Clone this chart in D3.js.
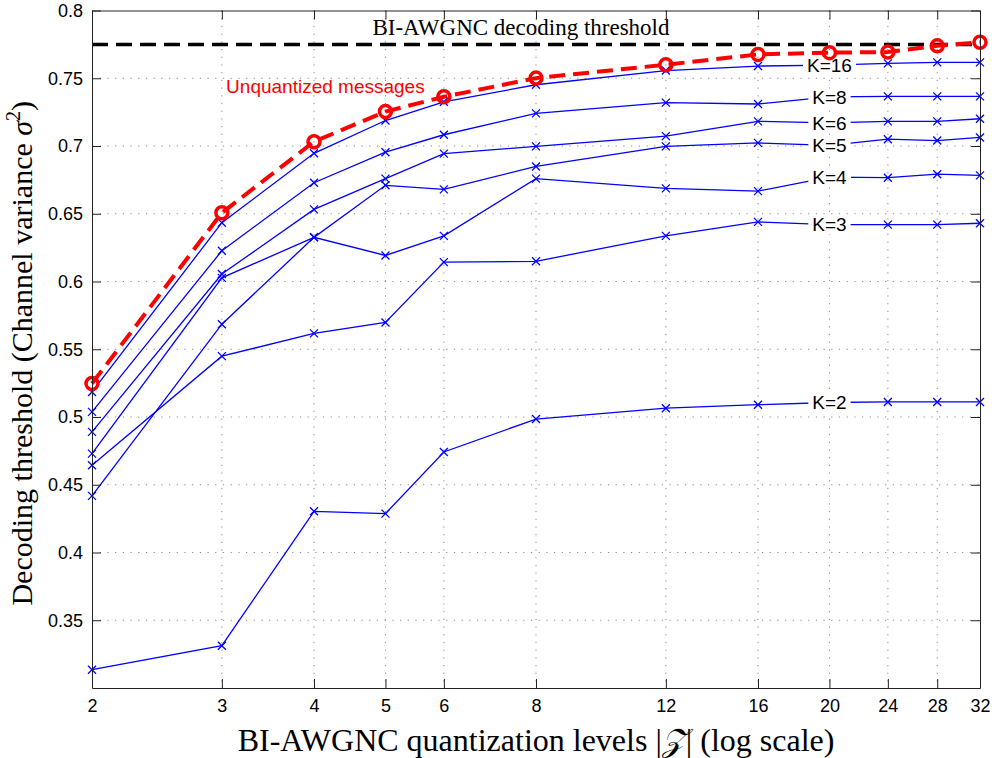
<html>
<head>
<title>Decoding threshold vs quantization levels</title>
<meta charset="utf-8">
<style type="text/css">
* { margin: 0; padding: 0; }
body { background: #fff; }
text.sans { font-family: "Liberation Sans", Arial, sans-serif; }
text.serif { font-family: "Liberation Serif", "Times New Roman", serif; }
</style>
<script type="text/javascript" src="https://cdn.jsdelivr.net/npm/d3@7/dist/d3.min.js"></script>
</head>
<body>
<div id="chart"></div>
<script type="text/javascript">
// quantization levels |Z| (x axis, log scale)
var levels = [2, 3, 4, 5, 6, 8, 12, 16, 20, 24, 28, 32];

// decoding thresholds
var unquantized = [0.5247, 0.6507, 0.7032, 0.7254, 0.7363, 0.7501, 0.7600, 0.7676, 0.7689, 0.7693, 0.7739, 0.7765];
var k16 = [0.5185, 0.6434, 0.6946, 0.7188, 0.7326, 0.7452, 0.7557, 0.7590, 0.7597, 0.7610, 0.7617, 0.7617];
var k8  = [0.5038, 0.6227, 0.6729, 0.6954, 0.7083, 0.7241, 0.7320, 0.7310, 0.7363, 0.7366, 0.7366, 0.7366];
var k6  = [0.4890, 0.6055, 0.6532, 0.6759, 0.6944, 0.6997, 0.7073, 0.7182, 0.7171, 0.7182, 0.7182, 0.7201];
var k5  = [0.4730, 0.6027, 0.6326, 0.6710, 0.6680, 0.6849, 0.6997, 0.7023, 0.7004, 0.7050, 0.7040, 0.7063];
var k4  = [0.4418, 0.5685, 0.6326, 0.6192, 0.6337, 0.6759, 0.6687, 0.6667, 0.6770, 0.6766, 0.6792, 0.6783];
var k3  = [0.4644, 0.5449, 0.5617, 0.5698, 0.6143, 0.6149, 0.6337, 0.6440, 0.6420, 0.6420, 0.6420, 0.6430];
var k2  = [0.3135, 0.3312, 0.4304, 0.4287, 0.4742, 0.4985, 0.5065, 0.5091, 0.5107, 0.5111, 0.5111, 0.5111];

var kSeries = [k2, k3, k4, k5, k6, k8, k16];
var kNames = ["K=2", "K=3", "K=4", "K=5", "K=6", "K=8", "K=16"];
var labelLevel = 20; // K labels sit on the |Z|=20 point

var awgnThreshold = 0.775;

var xTicks = [2, 3, 4, 5, 6, 8, 12, 16, 20, 24, 28, 32];
var yTicks = [0.35, 0.4, 0.45, 0.5, 0.55, 0.6, 0.65, 0.7, 0.75, 0.8];

var width = 997, height = 758;
var plotLeft = 92, plotRight = 980, plotTop = 10.5, plotBottom = 688;

var x = d3.scaleLog().domain([2, 32]).range([plotLeft, plotRight]);
var y = d3.scaleLinear().domain([0.3, 0.8]).range([plotBottom, plotTop]);

var svg = d3.select("#chart").append("svg")
  .attr("width", width)
  .attr("height", height);

//grid
var grid = svg.append("g").attr("stroke", "#8a8a8a").attr("stroke-width", 1).attr("stroke-dasharray", "1.2,6.5");
grid.selectAll("line.vx").data(xTicks.slice(1, -1)).enter().append("line")
  .attr("x1", function(d) { return x(d); })
  .attr("x2", function(d) { return x(d); })
  .attr("y1", plotTop)
  .attr("y2", plotBottom);
grid.selectAll("line.hy").data(yTicks.slice(0, -1)).enter().append("line")
  .attr("x1", plotLeft)
  .attr("x2", plotRight)
  .attr("y1", function(d) { return y(d); })
  .attr("y2", function(d) { return y(d); });

//K curves
var line = d3.line()
  .x(function(d, i) { return x(levels[i]); })
  .y(function(d) { return y(d); });

var curves = svg.append("g");
kSeries.forEach(function(series) {
  curves.append("path")
    .attr("d", line(series))
    .attr("fill", "none")
    .attr("stroke", "#0000ff")
    .attr("stroke-width", 1.3);
  curves.append("g").selectAll("path").data(series).enter().append("path")
    .attr("d", "M-4,-4L4,4M-4,4L4,-4")
    .attr("transform", function(d, i) { return "translate(" + x(levels[i]) + "," + y(d) + ")"; })
    .attr("stroke", "#0000ff")
    .attr("stroke-width", 1.3);
});

//K labels with white box, covering the |Z|=20 point
var li = levels.indexOf(labelLevel);
kSeries.forEach(function(series, k) {
  var g = svg.append("g").attr("transform", "translate(" + x(labelLevel) + "," + y(series[li]) + ")");
  var box = g.append("rect").attr("fill", "#fff");
  var t = g.append("text")
    .attr("class", "sans")
    .attr("font-size", 19)
    .attr("text-anchor", "middle")
    .attr("dy", "0.36em")
    .text(kNames[k]);
  var bb = t.node().getBBox();
  box.attr("x", bb.x - 4).attr("y", bb.y + 2).attr("width", bb.width + 8).attr("height", bb.height - 3);
});

//BI-AWGNC threshold
svg.append("line")
  .attr("x1", plotLeft)
  .attr("x2", plotRight)
  .attr("y1", y(awgnThreshold))
  .attr("y2", y(awgnThreshold))
  .attr("stroke", "#000")
  .attr("stroke-width", 3.5)
  .attr("stroke-dasharray", "16,8");

//unquantized messages
svg.append("path")
  .attr("d", line(unquantized))
  .attr("fill", "none")
  .attr("stroke", "#ff0000")
  .attr("stroke-width", 4)
  .attr("stroke-dasharray", "16,8");
svg.append("g").selectAll("circle").data(unquantized).enter().append("circle")
  .attr("cx", function(d, i) { return x(levels[i]); })
  .attr("cy", function(d) { return y(d); })
  .attr("r", 6)
  .attr("fill", "none")
  .attr("stroke", "#ff0000")
  .attr("stroke-width", 3.5);

svg.append("text")
  .attr("class", "serif")
  .attr("font-size", 23)
  .attr("x", x(4.8))
  .attr("y", y(0.782))
  .text("BI-AWGNC decoding threshold");

svg.append("text")
  .attr("class", "sans")
  .attr("font-size", 19)
  .attr("fill", "#ff0000")
  .attr("x", x(3.04))
  .attr("y", y(0.7394))
  .text("Unquantized messages");

//axes, MATLAB style box with inward ticks
function styleAxis(g) {
  g.select(".domain").attr("stroke", "#222").attr("stroke-width", 1);
  g.selectAll(".tick line").attr("stroke", "#222");
  g.selectAll(".tick text").attr("font-family", "Liberation Sans, Arial, sans-serif").attr("font-size", 18).attr("fill", "#000");
}

svg.append("g")
  .attr("transform", "translate(0," + plotBottom + ")")
  .call(d3.axisBottom(x).tickValues(xTicks).tickFormat(d3.format("d")).tickSize(-9).tickSizeOuter(0).tickPadding(11))
  .call(styleAxis);
svg.append("g")
  .attr("transform", "translate(0," + plotTop + ")")
  .call(d3.axisTop(x).tickValues(xTicks).tickFormat("").tickSize(-9).tickSizeOuter(0))
  .call(styleAxis);
svg.append("g")
  .attr("transform", "translate(" + plotLeft + ",0)")
  .call(d3.axisLeft(y).tickValues(yTicks).tickFormat(function(d) { return +d.toFixed(2); }).tickSize(-9).tickSizeOuter(0).tickPadding(9))
  .call(styleAxis);
svg.append("g")
  .attr("transform", "translate(" + plotRight + ",0)")
  .call(d3.axisRight(y).tickValues(yTicks).tickFormat("").tickSize(-9).tickSizeOuter(0))
  .call(styleAxis);

//axis titles
var xt = svg.append("text")
  .attr("class", "serif")
  .attr("font-size", 32)
  .attr("text-anchor", "middle")
  .attr("x", (plotLeft + plotRight) / 2)
  .attr("y", 751);
xt.append("tspan").text("BI-AWGNC quantization levels |");
xt.append("tspan").attr("font-style", "italic").text("\uD835\uDCB5");
xt.append("tspan").text("| (log scale)");

var yt = svg.append("text")
  .attr("class", "serif")
  .attr("font-size", 30)
  .attr("text-anchor", "middle")
  .attr("transform", "translate(32," + ((plotTop + plotBottom) / 2 + 4) + ") rotate(-90)");
yt.append("tspan").text("Decoding threshold (Channel variance ");
yt.append("tspan").attr("font-style", "italic").text("\u03C3");
yt.append("tspan").attr("font-size", 20).attr("dy", -12).text("2");
yt.append("tspan").attr("dy", 12).text(")");
</script>
</body>
</html>
